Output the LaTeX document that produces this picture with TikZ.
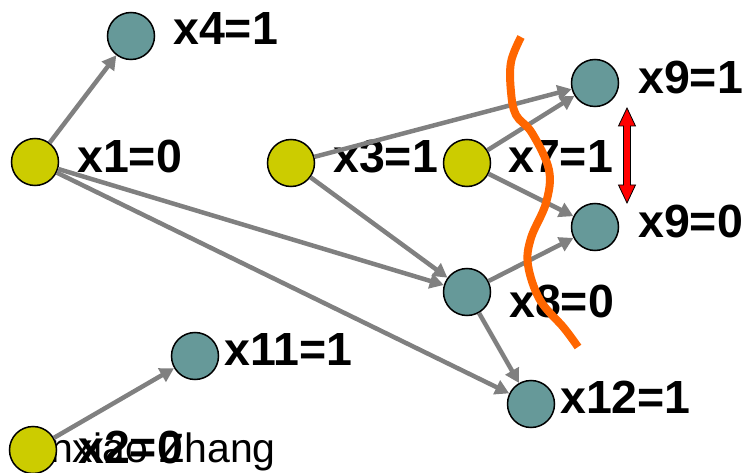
\documentclass[tikz,border=0pt]{standalone}
\usepackage{fontspec}
\setmainfont{Liberation Sans}
\usetikzlibrary{arrows.meta}
\definecolor{ylw}{HTML}{CCCC00}
\definecolor{tea}{HTML}{669999}
\definecolor{edg}{HTML}{808080}
\definecolor{org}{HTML}{FF6600}
\tikzset{
  vbase/.style={circle,draw=black,line width=1.5pt,minimum size=47pt,inner sep=0pt},
  yv/.style={vbase,fill=ylw},
  tv/.style={vbase,fill=tea},
  lbl/.style={anchor=base west,inner sep=0pt,font=\fontsize{46.5}{56}\selectfont\bfseries},
  edge/.style={draw=edg,line width=4.5pt,-{Triangle[length=14pt,width=15pt]}},
}
\begin{document}
\begin{tikzpicture}[x=1pt,y=-1pt]
\useasboundingbox (0,0) rectangle (744,473);
% footer text (partly hidden)
\node[anchor=base east,inner sep=0pt,font=\fontsize{41}{49}\selectfont] (foot) at (276,462) {Jinxiao Zhang};
% nodes
\node[tv] (x4) at (131,36) {};
\node[yv] (x1) at (35,162) {};
\node[yv] (x3) at (291,163) {};
\node[yv] (x7) at (467,163) {};
\node[tv] (x9a) at (595,83) {};
\node[tv] (x9b) at (595,227) {};
\node[tv] (x8) at (467,292) {};
\node[tv] (x11) at (195,356) {};
\node[tv] (x12) at (531,404) {};
\node[yv] (x2) at (33,450) {};
% labels
\node[lbl] (l4) at (173,45) {x4=1};
\node[lbl] (l1) at (77,173) {x1=0};
\node[lbl] (l3) at (333,173) {x3=1};
\node[lbl] (l7) at (508,173) {x7=1};
\node[lbl] (l9a) at (638,94) {x9=1};
\node[lbl] (l9b) at (638,237) {x9=0};
\node[lbl] (l8) at (509,317) {x8=0};
\node[lbl] (l11) at (224,365) {x11=1};
\node[lbl] (l12) at (560,413) {x12=1};
\node[lbl] (l2) at (78,463) {x2=0};
% edges
\draw[edge] (x1) -- (x4);
\draw[edge] (x1) -- (x8);
\draw[edge] (x1) -- (x12);
\draw[edge] (x3) -- (x9a);
\draw[edge] (x3) -- (x8);
\draw[edge] (x7) -- (x9a);
\draw[edge] (x7) -- (x9b);
\draw[edge] (x8) -- (x9b);
\draw[edge] (x8) -- (x12);
\draw[edge] (x2) -- (x11);
% orange cut curve
\draw[org,line width=8pt] plot[smooth,tension=0.6] coordinates {(521,37) (511,62) (511,92) (516,115) (532,133) (549,170) (546,203) (531,238) (528,265) (540,300) (564,328) (578,347)};
% red double arrow
\draw[fill=red,draw=black,line width=0.8pt] (627,108) -- (635.5,126) -- (630.5,126) -- (630.5,185) -- (635.5,185) -- (627,203) -- (618.5,185) -- (623.5,185) -- (623.5,126) -- (618.5,126) -- cycle;
\end{tikzpicture}
\end{document}
